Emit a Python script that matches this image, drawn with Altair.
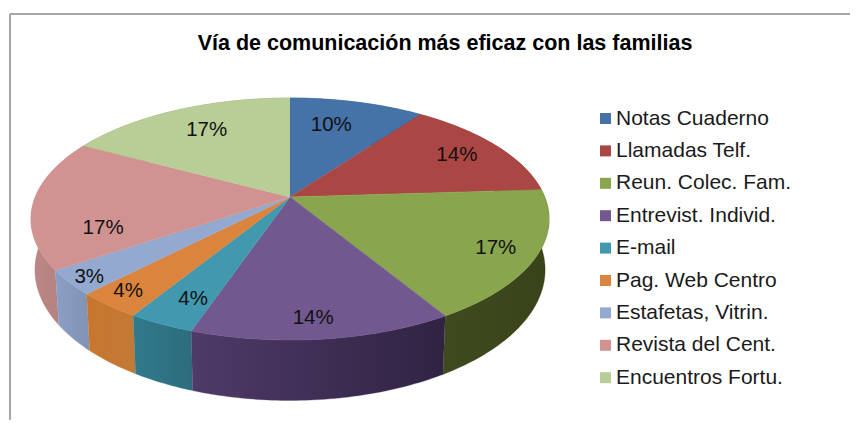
import math
import altair as alt
import pandas as pd

TITLE = "Vía de comunicación más eficaz con las familias"
names = ["Notas Cuaderno", "Llamadas Telf.", "Reun. Colec. Fam.", "Entrevist. Individ.", "E-mail",
         "Pag. Web Centro", "Estafetas, Vitrin.", "Revista del Cent.", "Encuentros Fortu."]
values = [10, 14, 17.4, 13.8, 3.5, 3.5, 3.3, 17.4, 17.1]
labels = ["10%", "14%", "17%", "14%", "4%", "4%", "3%", "17%", "17%"]

top_colors = ["#4572a7", "#aa4643", "#89a54e", "#71588f", "#4198af", "#db843d", "#93a9cf", "#d19392", "#b9cd96"]
side_left = ["#33557d", "#7f3432", "#3f4a1e", "#4f3a68", "#2f7a8c", "#c9762f", "#8a9fc4", "#bd8887", "#8a9970"]
side_right = ["#33557d", "#7f3432", "#39431b", "#2f2342", "#2e6c7c", "#c07a35", "#7f93b5", "#ad7c7b", "#8a9970"]
label_radius = [0.716, 0.80, 0.851, 0.874, 0.821, 0.894, 0.929, 0.744, 0.737]
label_shift = [-0.9, 0, 0.2, 0.3, -0.4, 0.2, -0.25, -4.7, 0.3]

# Pie geometry: perspective view of a disc, in page pixels
CX, CY, A, B, K = 290, 197, 254.7, 117, 0.182
DROP, SX, SY = 49, 0.985, 1.08


def project(share, r=1.0):
    t = share / 100 * 2 * math.pi
    u, v = r * math.sin(t), r * math.cos(t)
    d = 1 + K * v
    return A * u / d, -B * v / d


tops, sides, text_rows = [], [], []
start = 0.0
for i, (name, val) in enumerate(zip(names, values)):
    end = start + val
    n = max(4, int(val * 4))
    arc = [project(start + val * j / n) for j in range(n + 1)]
    outline = [(0.0, 0.0)] + arc
    for o, (dx, dy) in enumerate(outline):
        tops.append({"name": name, "o": o, "x": CX + dx, "y": CY + dy})
    ring = [(CX + dx, CY + dy) for dx, dy in arc] + \
           [(CX + SX * dx, CY + DROP + SY * dy) for dx, dy in reversed(arc)]
    for o, (x, y) in enumerate(ring):
        sides.append({"i": i, "o": o, "x": x, "y": y})
    dx, dy = project(start + val / 2 + label_shift[i], label_radius[i])
    text_rows.append({"label": labels[i], "x": CX + dx, "y": CY + dy})
    start = end

tops_df, sides_df, text_df = pd.DataFrame(tops), pd.DataFrame(sides), pd.DataFrame(text_rows)

W, H = 842, 412
xs = alt.Scale(domain=[8, 8 + W], range=[0, W], nice=False, zero=False)
ys = alt.Scale(domain=[8, 8 + H], range=[0, H], nice=False, zero=False)
X = alt.X("x:Q", scale=xs, axis=None)
Y = alt.Y("y:Q", scale=ys, axis=None)

layers = []
# frame
layers.append(alt.Chart(pd.DataFrame({"a": [0]})).mark_rule(color="#a6a6a6", strokeWidth=2).encode(
    x=alt.value(2), y=alt.value(6), y2=alt.value(H)))
layers.append(alt.Chart(pd.DataFrame({"a": [0]})).mark_rule(color="#a6a6a6", strokeWidth=2).encode(
    x=alt.value(2), x2=alt.value(W), y=alt.value(6)))

# slice walls, back to front
for i in [0, 1, 8, 2, 7, 6, 5, 4, 3]:
    grad = alt.LinearGradient(gradient="linear", x1=0, x2=1, y1=0, y2=0,
                              stops=[alt.GradientStop(offset=0, color=side_left[i]),
                                     alt.GradientStop(offset=1, color=side_right[i])])
    layers.append(alt.Chart(sides_df[sides_df.i == i]).mark_line(
        fill=grad, stroke=side_left[i], strokeWidth=0.3, interpolate="linear").encode(
        x=X, y=Y, order="o:Q"))

scale = alt.Scale(domain=names, range=top_colors)
legend = alt.Legend(title=None, orient="none", legendX=587, legendY=100, symbolType="square", symbolSize=121,
                    symbolStrokeWidth=0, labelFont="Liberation Sans", labelFontSize=21, labelColor="#1a1a1a",
                    rowPadding=10.4, labelLimit=260, labelOffset=0)
layers.append(alt.Chart(tops_df).mark_line(strokeWidth=0.6, interpolate="linear").encode(
    x=X, y=Y, order="o:Q",
    fill=alt.Fill("name:N", scale=scale, sort=names, legend=legend),
    stroke=alt.Stroke("name:N", scale=scale, sort=names, legend=None)))

layers.append(alt.Chart(text_df).mark_text(font="Liberation Sans", fontSize=20.5, color="#111111").encode(
    x=X, y=Y, text="label:N"))

layers.append(alt.Chart(pd.DataFrame({"t": [TITLE], "x": [445], "y": [44]})).mark_text(
    font="Liberation Sans", fontSize=21.5, fontWeight="bold", color="#000000").encode(x=X, y=Y, text="t:N"))

chart = alt.layer(*layers).resolve_scale(fill="independent", stroke="independent").properties(
    width=W, height=H, padding=0, autosize=alt.AutoSizeParams(type="none"),
    background="white").configure_view(strokeWidth=0)
chart.save("out.html", embed_options={"renderer": "svg", "actions": False})
